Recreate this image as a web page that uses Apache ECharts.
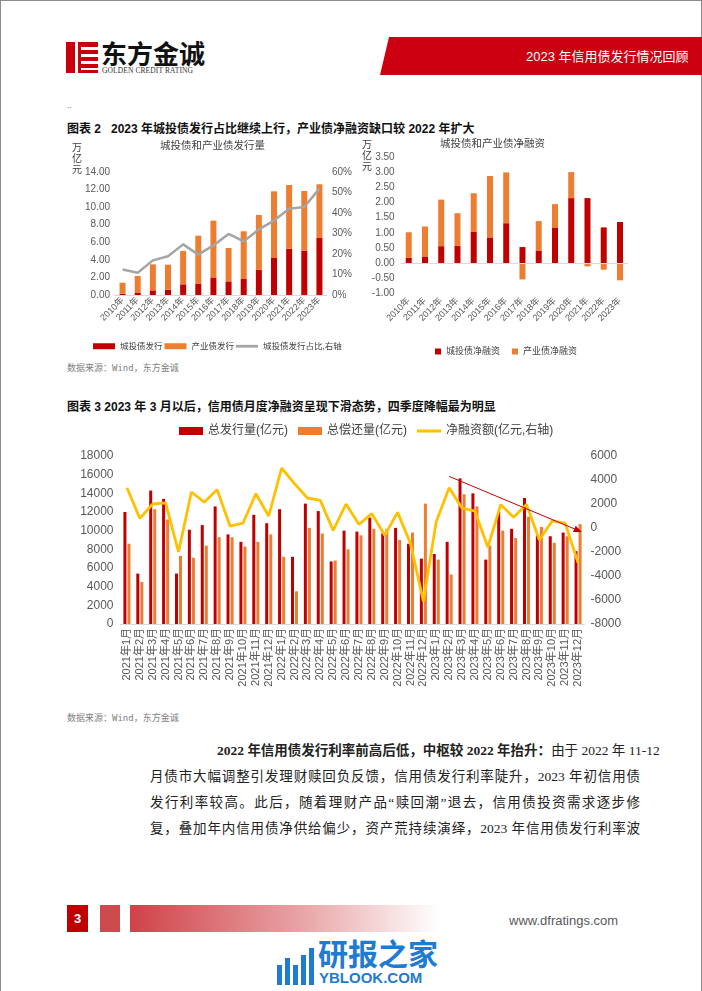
<!DOCTYPE html>
<html><head><meta charset="utf-8">
<script src="https://cdn.jsdelivr.net/npm/echarts/dist/echarts.min.js"></script>
<style>
body{margin:0;background:#fff;}
#page{position:relative;width:702px;height:991px;overflow:hidden;background:#fff;font-family:"Liberation Sans","Noto Sans CJK SC",sans-serif;}
#frame{position:absolute;left:0;top:0;width:700px;height:995px;border:1px solid #8c8c8c;}
.abs{position:absolute;white-space:pre;}
.h{font-family:"Liberation Sans","Noto Sans CJK SC";font-weight:bold;font-size:12px;color:#111;}
.src{font-size:9px;color:#7f7f7f;font-family:"DejaVu Sans Mono","Noto Sans CJK SC";}
.para{position:absolute;height:26px;line-height:26px;font-size:13.5px;color:#222;text-align:justify;text-align-last:justify;font-family:"Liberation Serif","Noto Sans CJK SC";white-space:nowrap;}
.chart{position:absolute;}
</style></head>
<body><div id="page">
<div id="frame"></div>
<!-- logo -->
<div class="abs" style="left:66px;top:42px;width:32px;height:31px;background:#C8000E;"></div>
<div class="abs" style="left:75px;top:42px;width:3px;height:31px;background:#fff;"></div>
<div class="abs" style="left:81px;top:47px;width:17px;height:3px;background:#fff;"></div>
<div class="abs" style="left:81px;top:54px;width:17px;height:3px;background:#fff;"></div>
<div class="abs" style="left:81px;top:61px;width:17px;height:3px;background:#fff;"></div>
<div class="abs" style="left:81px;top:68px;width:17px;height:2px;background:#fff;"></div>
<div class="abs" style="left:101px;top:38px;font-size:26px;line-height:30px;font-family:'Noto Sans CJK SC';font-weight:bold;color:#111;letter-spacing:0px;">东方金诚</div>
<div class="abs" style="left:102px;top:66px;font-size:7.5px;line-height:9px;font-family:'Liberation Serif';color:#333;letter-spacing:0.1px;">GOLDEN CREDIT RATING</div>
<!-- banner -->
<div class="abs" style="left:380px;top:37px;width:322px;height:38px;background:#CC0011;clip-path:polygon(9px 0,100% 0,100% 100%,0 100%);"></div>
<div class="abs" style="left:526px;top:48px;font-size:13px;line-height:17px;color:#fff;font-family:'Liberation Sans','Noto Sans CJK SC';">2023 年信用债发行情况回顾</div>
<div class="abs" style="left:67px;top:101px;font-size:8px;color:#333;">..</div>
<div class="abs h" style="left:67px;top:119px;">图表 2   2023 年城投债发行占比继续上行，产业债净融资缺口较 2022 年扩大</div>
<div class="abs src" style="left:67px;top:361px;">数据来源：Wind，东方金诚</div>
<div class="abs h" style="left:67px;top:397px;">图表 3 2023 年 3 月以后，信用债月度净融资呈现下滑态势，四季度降幅最为明显</div>
<div class="abs src" style="left:67px;top:711px;">数据来源：Wind，东方金诚</div>
<div id="c1" class="chart" style="left:60px;top:135px;width:300px;height:225px;"></div>
<div id="c2" class="chart" style="left:360px;top:135px;width:300px;height:225px;"></div>
<div id="c3" class="chart" style="left:60px;top:415px;width:620px;height:290px;"></div>
<!-- paragraph -->
<div class="para" style="left:217px;top:738px;width:423px;"><b>2022 年信用债发行利率前高后低，中枢较 2022 年抬升：</b>由于 2022 年 11-12</div>
<div class="para" style="left:150px;top:764px;width:490px;">月债市大幅调整引发理财赎回负反馈，信用债发行利率陡升，2023 年初信用债</div>
<div class="para" style="left:150px;top:790px;width:490px;">发行利率较高。此后，随着理财产品“赎回潮”退去，信用债投资需求逐步修</div>
<div class="para" style="left:150px;top:816px;width:490px;">复，叠加年内信用债净供给偏少，资产荒持续演绎，2023 年信用债发行利率波</div>
<!-- footer -->
<div class="abs" style="left:67px;top:905px;width:21px;height:27px;background:#C00000;color:#fff;font-weight:bold;font-size:13px;line-height:27px;text-align:center;">3</div>
<div class="abs" style="left:100px;top:905px;width:20px;height:27px;background:#CD4A4F;"></div>
<div class="abs" style="left:130px;top:905px;width:310px;height:27px;background:linear-gradient(to right,#CF4248,#E9A3A6 55%,#fff);"></div>
<div class="abs" style="left:509px;top:913px;font-size:13px;color:#595959;">www.dfratings.com</div>
<!-- watermark -->
<div class="abs" style="left:277px;top:965px;width:5px;height:20px;background:#1F7AD2;"></div>
<div class="abs" style="left:285px;top:958px;width:5px;height:27px;background:#1F7AD2;"></div>
<div class="abs" style="left:293px;top:965px;width:5px;height:20px;background:#1F7AD2;"></div>
<div class="abs" style="left:301px;top:955px;width:5px;height:30px;background:#1F7AD2;"></div>
<div class="abs" style="left:309px;top:948px;width:5px;height:37px;background:#1F7AD2;"></div>
<div class="abs" style="left:318px;top:934px;font-size:30px;line-height:36px;font-weight:bold;color:#1F7AD2;font-family:'Noto Sans CJK SC';">研报之家</div>
<div class="abs" style="left:319px;top:969px;font-size:15px;line-height:17px;font-weight:bold;color:#1F7AD2;">YBLOOK.COM</div>
</div>
<script>
// ---- Figure 2 left: issuance (万亿元) ----
const years = ['2010年','2011年','2012年','2013年','2014年','2015年','2016年','2017年','2018年','2019年','2020年','2021年','2022年','2023年'];
const chengtouIssue = [0.15,0.23,0.53,0.60,1.21,1.25,2.00,1.55,1.82,2.88,4.21,5.27,5.05,6.49];
const chanyeIssue = [1.25,1.93,2.96,2.85,3.79,5.50,6.46,3.80,5.43,6.22,7.59,7.25,6.79,6.11];
const chengtouShare = [12.4,10.9,16.9,18.9,24.7,19.7,24.2,29.8,26.2,32.0,36.3,42.1,42.9,51.9];
// ---- Figure 2 right: net financing (万亿元) ----
const chengtouNet = [0.17,0.22,0.56,0.57,1.03,0.85,1.32,0.53,0.40,1.18,2.15,2.15,1.18,1.36];
const chanyeNet = [0.85,0.99,1.54,1.08,1.28,2.03,1.68,-0.54,0.99,0.77,0.86,-0.11,-0.22,-0.57];
// ---- Figure 3: monthly (亿元) ----
const months = ['2021年1月','2021年2月','2021年3月','2021年4月','2021年5月','2021年6月','2021年7月','2021年8月','2021年9月','2021年10月','2021年11月','2021年12月',
'2022年1月','2022年2月','2022年3月','2022年4月','2022年5月','2022年6月','2022年7月','2022年8月','2022年9月','2022年10月','2022年11月','2022年12月',
'2023年1月','2023年2月','2023年3月','2023年4月','2023年5月','2023年6月','2023年7月','2023年8月','2023年9月','2023年10月','2023年11月','2023年12月'];
const totalIssue = [12000,5400,14300,13400,5400,10100,10600,12600,9600,8800,11700,10800,12300,7200,12900,12100,6700,10000,9900,11400,9700,10300,8600,7000,7500,8800,15600,14000,6900,12000,10200,13500,9500,9400,9800,7800];
const totalRepay = [8600,4500,12300,11200,7300,7100,8400,9300,9300,8300,8800,9600,7200,3500,10300,9700,6800,8000,9500,10200,10200,9000,9800,12900,6900,5300,13900,12600,8400,10000,9200,11500,10400,8700,9400,10700];
const netFinancing = [3350,800,2000,2100,-2000,3000,2150,3200,150,400,2850,1000,5000,3700,2500,2300,-200,2000,300,1200,-600,1300,-1300,-6100,550,3350,1650,1400,-1600,1950,900,1950,-1000,600,400,-2900];
const trendStart = [25.2, 4300];
const trendEnd = [34.9, -200];

const RED='#C00000', ORANGE='#ED7D31', GRAY='#A5A5A5', YELLOW='#FFC000';
const FF = '"Liberation Sans","Noto Sans CJK SC",sans-serif';
const axisTxt = {color:'#595959', fontFamily:FF};
const LINE_ICON = 'path://M0,0H24V3H0Z';

// Chart 1
const c1 = echarts.init(document.getElementById('c1'));
c1.setOption({
  animation:false,
  textStyle:{fontFamily:FF},
  graphic:[
    {type:'text', left:12, top:8, style:{text:'万\n亿\n元', fill:'#404040', font:'10px '+FF, lineHeight:11}},
    {type:'text', left:100, top:6, style:{text:'城投债和产业债发行量', fill:'#404040', font:'10.5px '+FF}}
  ],
  grid:{left:55, top:37, width:212, height:123},
  legend:{left:28, top:202, width:290, itemWidth:22, itemHeight:6, itemGap:2, textStyle:{fontSize:8.5, color:'#404040', fontFamily:FF},
    data:[{name:'城投债发行', icon:'rect'},{name:'产业债发行', icon:'rect'},{name:'城投债发行占比,右轴', icon:LINE_ICON}]},
  xAxis:{type:'category', data:years, axisTick:{show:false}, axisLine:{lineStyle:{color:'#D9D9D9'}},
    axisLabel:Object.assign({rotate:45, fontSize:9, interval:0, margin:4}, axisTxt)},
  yAxis:[
    {type:'value', min:0, max:14, interval:2, splitLine:{show:false},
      axisLabel:Object.assign({fontSize:10, margin:5, formatter:v=>v.toFixed(2)}, axisTxt)},
    {type:'value', min:0, max:60, interval:10, splitLine:{show:false},
      axisLabel:Object.assign({fontSize:10, margin:5, formatter:v=>v+'%'}, axisTxt)}
  ],
  series:[
    {name:'城投债发行', type:'bar', stack:'a', data:chengtouIssue, barWidth:6, itemStyle:{color:RED}},
    {name:'产业债发行', type:'bar', stack:'a', data:chanyeIssue, barWidth:6, itemStyle:{color:ORANGE}},
    {name:'城投债发行占比,右轴', type:'line', yAxisIndex:1, data:chengtouShare, symbol:'none', lineStyle:{color:GRAY, width:2.5}, itemStyle:{color:GRAY}}
  ]
});

// Chart 2
const c2 = echarts.init(document.getElementById('c2'));
c2.setOption({
  animation:false,
  textStyle:{fontFamily:FF},
  graphic:[
    {type:'text', left:2, top:5, style:{text:'万\n亿\n元', fill:'#404040', font:'10px '+FF, lineHeight:11}},
    {type:'text', left:80, top:4, style:{text:'城投债和产业债净融资', fill:'#404040', font:'10.5px '+FF}}
  ],
  grid:{left:40.6, top:22.3, width:227.5, height:136},
  legend:{left:70, top:207, itemWidth:6, itemHeight:6, itemGap:12, textStyle:{fontSize:9, color:'#404040', fontFamily:FF},
    data:[{name:'城投债净融资', icon:'rect'},{name:'产业债净融资', icon:'rect'}]},
  xAxis:{type:'category', data:years, axisTick:{show:false}, axisLine:{show:false, onZero:false},
    axisLabel:Object.assign({rotate:45, fontSize:9, interval:0, margin:6}, axisTxt)},
  yAxis:{type:'value', min:-1, max:3.5, interval:0.5, splitLine:{show:false},
      axisLabel:Object.assign({fontSize:10, margin:6, formatter:v=>v.toFixed(2)}, axisTxt)},
  series:[
    {name:'城投债净融资', type:'bar', stack:'n', data:chengtouNet, barWidth:6, itemStyle:{color:RED},
      markLine:{silent:true, symbol:'none', label:{show:false}, lineStyle:{color:'#D9D9D9', type:'solid', width:1}, data:[{yAxis:0}]}},
    {name:'产业债净融资', type:'bar', stack:'n', data:chanyeNet, barWidth:6, itemStyle:{color:ORANGE}}
  ]
});

// Chart 3
const c3 = echarts.init(document.getElementById('c3'));
c3.setOption({
  animation:false,
  textStyle:{fontFamily:FF},
  grid:{left:60.5, top:41, width:464, height:168},
  legend:{left:114, top:5, itemWidth:24, itemHeight:8, itemGap:10, textStyle:{fontSize:12, color:'#404040', fontFamily:FF},
    data:[{name:'总发行量(亿元)', icon:'rect'},{name:'总偿还量(亿元)', icon:'rect'},{name:'净融资额(亿元,右轴)', icon:LINE_ICON}]},
  xAxis:{type:'category', data:months, axisTick:{show:false}, axisLine:{lineStyle:{color:'#D9D9D9'}},
    axisLabel:Object.assign({rotate:90, fontSize:11, interval:0, margin:4}, axisTxt)},
  yAxis:[
    {type:'value', min:0, max:18000, interval:2000, splitLine:{show:false},
      axisLabel:Object.assign({fontSize:12, margin:7, formatter:v=>String(v)}, axisTxt)},
    {type:'value', min:-8000, max:6000, interval:2000, splitLine:{show:false},
      axisLabel:Object.assign({fontSize:12, margin:6, formatter:v=>String(v)}, axisTxt)}
  ],
  series:[
    {name:'总发行量(亿元)', type:'bar', data:totalIssue, barWidth:3, barGap:'35%', itemStyle:{color:RED}},
    {name:'总偿还量(亿元)', type:'bar', data:totalRepay, barWidth:3, itemStyle:{color:ORANGE}},
    {name:'净融资额(亿元,右轴)', type:'line', yAxisIndex:1, data:netFinancing, symbol:'none', lineStyle:{color:YELLOW, width:2.8}, itemStyle:{color:YELLOW},
      markLine:{silent:true, symbol:['none','triangle'], symbolSize:[7,8], label:{show:false}, lineStyle:{color:'#C00000', type:'solid', width:1},
        data:[[{coord:trendStart},{coord:trendEnd}]]}}
  ]
});
</script>
</body></html>
